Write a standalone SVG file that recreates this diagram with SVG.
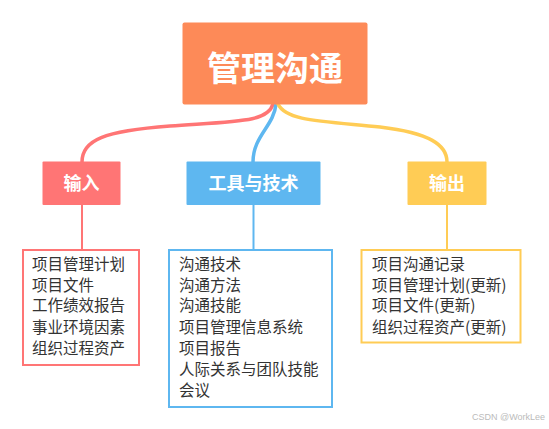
<svg xmlns="http://www.w3.org/2000/svg" width="549" height="429" viewBox="0 0 549 429">
<style>
.root{fill:#FD8A58}
.t-root{font-family:"Noto Sans CJK SC","Noto Sans",sans-serif;font-weight:bold;font-size:34px;fill:#fff;text-anchor:middle}
.t-l1{font-family:"Noto Sans CJK SC","Noto Sans",sans-serif;font-weight:bold;font-size:18px;fill:#fff;text-anchor:middle}
.t-leaf{font-family:"Noto Sans CJK SC","Noto Sans",sans-serif;font-size:15.5px;fill:#333}
.leaf{fill:#fff;stroke-width:2}
.c{fill:none;stroke-linecap:round}
</style>
<rect width="549" height="429" fill="#fff"/>
<g id="connectors">
  <path class="c" d="M273,104 C268,122 240,121 170,126 C104,131 82,140 82,162" stroke="#FF7575" stroke-width="3.5"/>
  <path class="c" d="M276,104 C274,126 253,136 253,162" stroke="#5EB7F0" stroke-width="3.5"/>
  <path class="c" d="M278,104 C286,121 320,121 380,127 C430,133 447,145 447,162" stroke="#FFCC55" stroke-width="3.5"/>
  <line x1="82" y1="205" x2="82" y2="250" stroke="#FF7575" stroke-width="2"/>
  <line x1="253.5" y1="205" x2="253.5" y2="250" stroke="#5EB7F0" stroke-width="2"/>
  <line x1="447" y1="205" x2="447" y2="250" stroke="#FFCC55" stroke-width="2"/>
</g>
<g id="root">
  <rect class="root" x="182.5" y="22.5" width="185" height="82" rx="2"/>
  <text class="t-root" x="275" y="80.5">管理沟通</text>
</g>
<g id="input">
  <rect x="42.5" y="161.5" width="78" height="43.5" rx="1" fill="#FF7575"/>
  <text class="t-l1" x="81.5" y="189.5">输入</text>
</g>
<g id="tools">
  <rect x="186.5" y="161.5" width="134" height="43.5" rx="1" fill="#5EB7F0"/>
  <text class="t-l1" x="253.5" y="189.5">工具与技术</text>
</g>
<g id="output">
  <rect x="407.5" y="161.5" width="79" height="43.5" rx="1" fill="#FFCC55"/>
  <text class="t-l1" x="447" y="189.5">输出</text>
</g>
<g id="input-items">
  <rect class="leaf" x="23" y="250" width="116" height="115" stroke="#FF7575"/>
  <text class="t-leaf" x="32" y="270">项目管理计划</text>
  <text class="t-leaf" x="32" y="290.5">项目文件</text>
  <text class="t-leaf" x="32" y="311">工作绩效报告</text>
  <text class="t-leaf" x="32" y="333">事业环境因素</text>
  <text class="t-leaf" x="32" y="354">组织过程资产</text>
</g>
<g id="tools-items">
  <rect class="leaf" x="169" y="250" width="163" height="157" stroke="#5EB7F0"/>
  <text class="t-leaf" x="179" y="270">沟通技术</text>
  <text class="t-leaf" x="179" y="290.5">沟通方法</text>
  <text class="t-leaf" x="179" y="311">沟通技能</text>
  <text class="t-leaf" x="179" y="333">项目管理信息系统</text>
  <text class="t-leaf" x="179" y="354">项目报告</text>
  <text class="t-leaf" x="179" y="375">人际关系与团队技能</text>
  <text class="t-leaf" x="179" y="396">会议</text>
</g>
<g id="output-items">
  <rect class="leaf" x="361.5" y="250" width="159" height="92.5" stroke="#FFCC55"/>
  <text class="t-leaf" x="372" y="270">项目沟通记录</text>
  <text class="t-leaf" x="372" y="290.5">项目管理计划(更新)</text>
  <text class="t-leaf" x="372" y="311">项目文件(更新)</text>
  <text class="t-leaf" x="372" y="333">组织过程资产(更新)</text>
</g>
<text x="545" y="420" font-family="Liberation Sans, sans-serif" font-size="9px" fill="#bbb" text-anchor="end">CSDN @WorkLee</text>
</svg>
